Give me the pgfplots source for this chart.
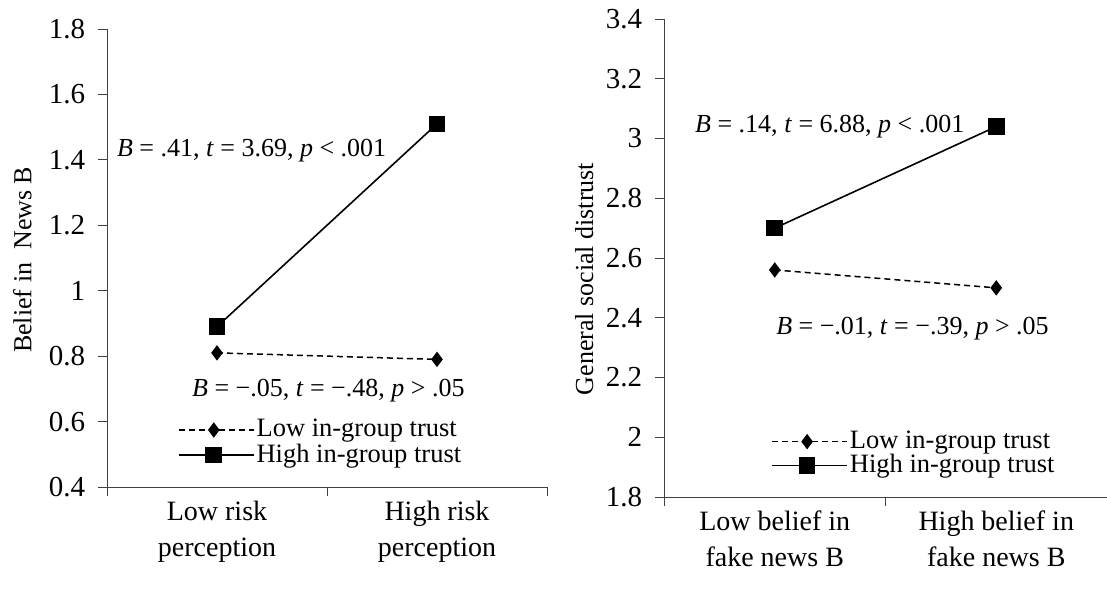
\documentclass[border=0pt]{standalone}
\usepackage{pgfplots}
\pgfplotsset{compat=1.18}
\usepackage{fontspec}
\setmainfont{Liberation Serif}

\pgfplotsset{
  myaxis/.style={
    scale only axis,
    anchor=south west,
    axis x line=bottom, axis y line=left,
    axis line style={-, line width=0.8pt, black!75},
    xmin=0, xmax=2,
    xtick={0,1,2}, xticklabels={,,},
    tick align=outside,
    major tick length=9pt,
    tick style={line width=0.8pt, black!75},
    /pgf/number format/assume math mode=true,
    yticklabel style={/pgf/number format/fixed,/pgf/number format/precision=1, xshift=-4pt, font=\fontsize{29}{34}\selectfont},
    extra x ticks={0.5,1.5},
    extra x tick style={major tick length=0pt, tick label style={align=center, yshift=-5pt, font=\fontsize{28}{36}\selectfont}},
    clip=false,
    legend cell align=left,
    legend style={draw=none, fill=none, anchor=north west, row sep=-1pt, font=\fontsize{26.5}{31}\selectfont},
    legend image code/.code={\draw[mark repeat=2,mark phase=2,##1] plot coordinates {(0pt,0pt)(35pt,0pt)(70pt,0pt)}; \path (0pt,0pt) -- (75pt,0pt);},
  },
  lowline/.style={black, line width=1.5pt, dash pattern=on 6pt off 4pt, mark=diamond*, mark size=6.5pt, mark options={solid}},
  highline/.style={black, line width=1.6pt, mark=square*, mark size=7.5pt, mark options={solid}},
}

\begin{document}
\fontsize{26}{31}\selectfont
\begin{tikzpicture}[x=1pt,y=1pt]
\useasboundingbox (0,0) rectangle (1107,593);

\begin{axis}[myaxis,
  at={(107pt,106pt)}, width=440pt, height=458pt,
  ymin=0.4, ymax=1.8,
  ytick={0.4,0.6,0.8,1.0,1.2,1.4,1.6,1.8},
  extra x tick labels={{Low risk\\perception},{High risk\\perception}},
  ylabel={Belief in\ \ News B},
  ylabel style={at={(axis description cs:-0.172,0.496)}, anchor=base},
  legend style={at={(axis description cs:0.154,0.157)}},
]
\addplot[lowline] coordinates {(0.5,0.81) (1.5,0.79)};
\addlegendentry{Low in-group trust}
\addplot[highline] coordinates {(0.5,0.89) (1.5,1.51)};
\addlegendentry{High in-group trust}
\node[anchor=base west, inner sep=0pt] at (axis cs:0.045,1.409) {\textit{B} = .41, \textit{t} = 3.69, \textit{p} < .001};
\node[anchor=base west, inner sep=0pt] at (axis cs:0.386,0.676) {\textit{B} = −.05, \textit{t} = −.48, \textit{p} > .05};
\end{axis}

\begin{axis}[myaxis,
  at={(664pt,96pt)}, width=443pt, height=478pt,
  ymin=1.8, ymax=3.4,
  ytick={1.8,2.0,2.2,2.4,2.6,2.8,3.0,3.2,3.4},
  extra x tick labels={{Low belief in\\fake news B},{High belief in\\fake news B}},
  ylabel={General social distrust},
  ylabel style={at={(axis description cs:-0.160,0.456)}, anchor=base},
  legend style={at={(axis description cs:0.235,0.147)}, row sep=-2pt},
]
\addplot[lowline] coordinates {(0.5,2.56) (1.5,2.50)};
\addlegendentry{Low in-group trust}
\addplot[highline] coordinates {(0.5,2.70) (1.5,3.04)};
\addlegendentry{High in-group trust}
\node[anchor=base west, inner sep=0pt] at (axis cs:0.140,3.020) {\textit{B} = .14, \textit{t} = 6.88, \textit{p} < .001};
\node[anchor=base west, inner sep=0pt] at (axis cs:0.506,2.345) {\textit{B} = −.01, \textit{t} = −.39, \textit{p} > .05};
\end{axis}
\end{tikzpicture}
\end{document}
